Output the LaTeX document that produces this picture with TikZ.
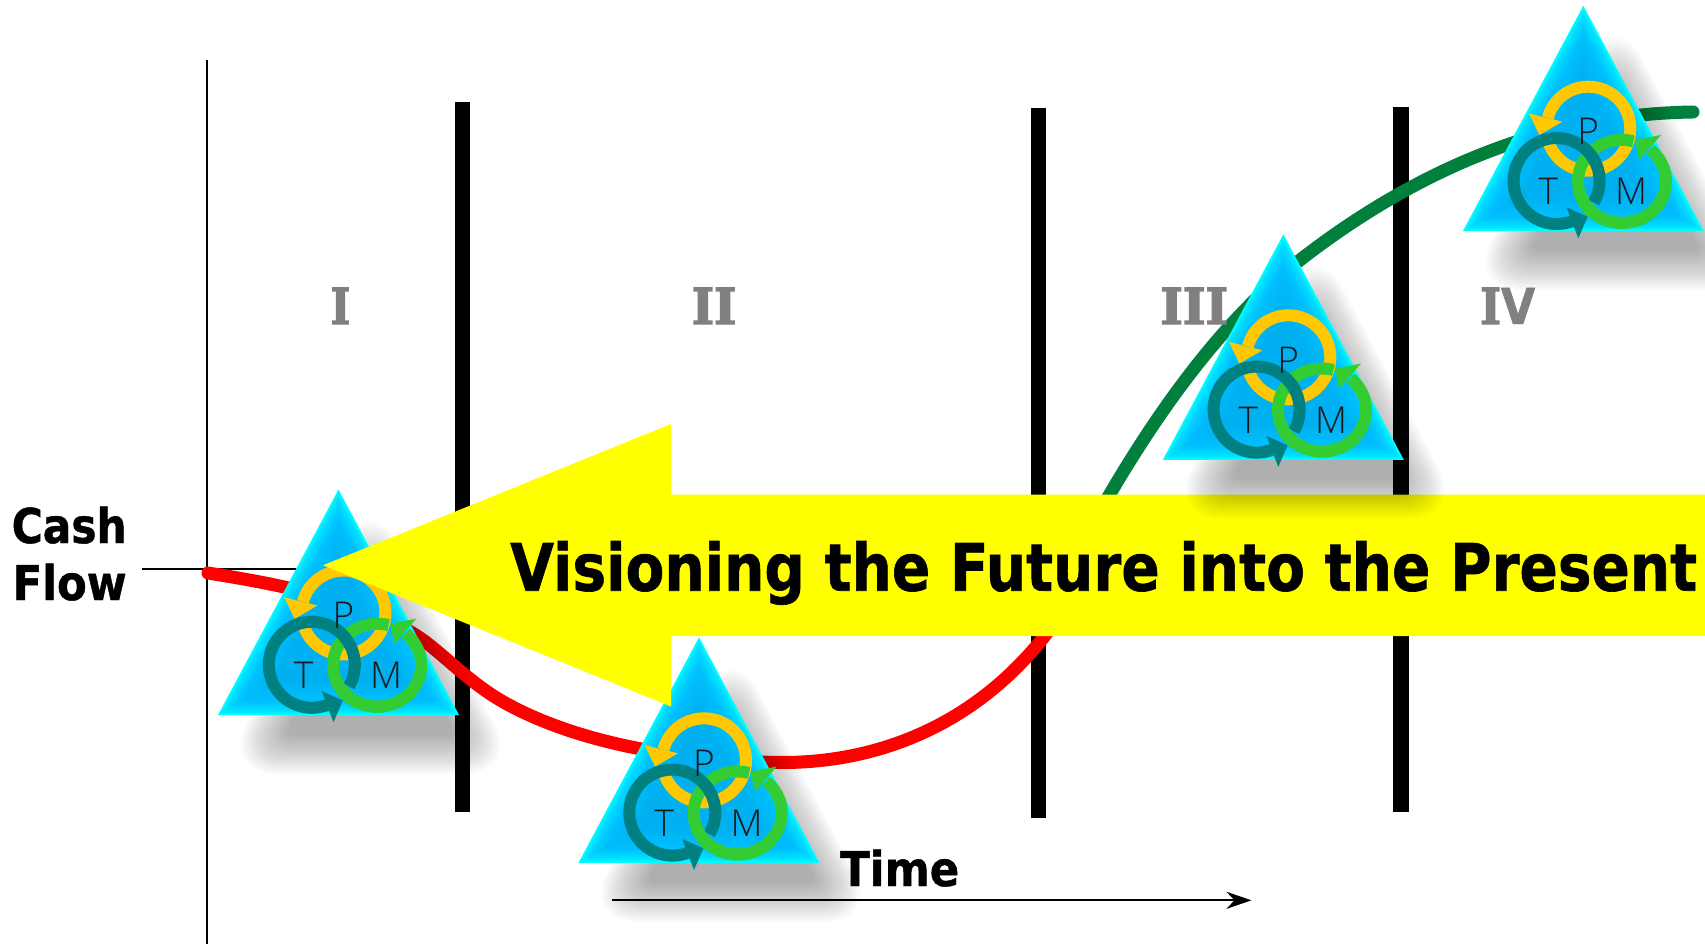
\documentclass[tikz,border=0pt]{standalone}
\usepackage{fontspec}
\usepackage{graphicx}
\usetikzlibrary{arrows.meta}
\setmainfont{DejaVu Sans}[BoldFeatures={FakeBold=1}]
\newfontfamily\slabfont{DejaVu Serif}[BoldFeatures={FakeBold=3}]
\newfontfamily\lightfont{Open Sans Light}
\definecolor{ringyellow}{HTML}{FFC800}
\definecolor{ringteal}{HTML}{008080}
\definecolor{ringgreen}{HTML}{33CC33}
\definecolor{curvegreen}{HTML}{00803C}
\definecolor{numgray}{HTML}{808080}
\definecolor{arrowyellow}{HTML}{FFFF00}
\definecolor{curvered}{HTML}{FF0000}
\tikzset{
  barline/.style={line width=15.5pt,black},
  axisline/.style={line width=2pt,black},
  redcurve/.style={line width=13pt,curvered,line cap=round,line join=round},
  greencurve/.style={line width=13pt,curvegreen,line cap=round,line join=round},
  ringline/.style={line width=12pt},
  boldlabel/.style={inner sep=0pt,anchor=base west,font=\bfseries\fontsize{48}{48}\selectfont},
  numlabel/.style={inner sep=0pt,anchor=base west,text=numgray,font=\bfseries\fontsize{49.4}{49.4}\selectfont},
  tmlabel/.style={inner sep=0pt,font=\lightfont\fontsize{37}{37}\selectfont,text=black!90}
}
\newcommand{\fitw}[2]{\resizebox{#1pt}{\height}{#2}}
\newcommand{\tmtri}[3]{% name, apex x, apex y
\coordinate (#1) at (#2,#3);
\begin{scope}[shift={(#2,#3)}]
  % blurred shadow
  \foreach \i in {0,...,23}{
    \pgfmathsetmacro{\dd}{20-40*\i/23}
    \pgfmathsetmacro{\ss}{0.98*(72.2-\dd)/72.2}
    \pgfmathsetmacro{\rc}{1.2*(20-\dd)+10}
    \fill[black,opacity=0.0153,rounded corners=\rc pt]
      ({32},{41+153.3-153.3*\ss}) -- ({32+120.5*\ss},{41+153.3+72.2*\ss}) -- ({32-120.5*\ss},{41+153.3+72.2*\ss}) -- cycle;
  }
  % bevelled body
  \foreach \i in {0,...,47}{
    \pgfmathsetmacro{\dd}{0.75*\i}
    \pgfmathsetmacro{\ss}{(72.2-\dd)/72.2}
    \pgfmathsetmacro{\gg}{\dd<=4 ? 1-0.12*\dd/4 : (\dd<=14 ? 0.88-0.13*(\dd-4)/10 : 0.75-0.06*(\dd-14)/22)}
    \pgfmathsetmacro{\bb}{\dd<=14 ? 1 : 1-0.06*(\dd-14)/22}
    \definecolor{bodyshade}{rgb}{0,\gg,\bb}
    \fill[bodyshade]
      ({0},{153.3-153.3*\ss}) -- ({120.5*\ss},{153.3+72.2*\ss}) -- ({-120.5*\ss},{153.3+72.2*\ss}) -- cycle;
  }
  % P ring
  \draw[ringline,ringyellow] plot[domain=164:-165,samples=70] ({5+42*cos(\x)},{123+42*sin(\x)});
  \fill[ringyellow] (-54.3,107.7) -- (-21,116) -- (-44,129.3) -- cycle;
  % M ring
  \draw[ringline,ringgreen] plot[domain=-75:-410,samples=70] ({38.7+44*cos(\x)},{175.7+41.5*sin(\x)});
  \fill[ringgreen] (77.7,129.3) -- (55.7,154.3) -- (51.7,134.3) -- cycle;
  % T ring
  \draw[ringline,ringteal] plot[domain=30:-291,samples=70] ({-26.7+43*cos(\x)},{175.3+43*sin(\x)});
  \fill[ringteal] (-16.7,201.7) -- (4.3,211) -- (-5,232.7) -- cycle;
  % M ring lower part passes over T ring
  \draw[ringline,ringgreen] plot[domain=-200:-320,samples=30] ({38.7+44*cos(\x)},{175.7+41.5*sin(\x)});
  \node[tmlabel] (#1P) at (5,126) {P};
  \node[tmlabel] (#1T) at (-35,186) {T};
  \node[tmlabel] (#1M) at (47.7,186) {M};
\end{scope}}
\begin{document}
\begin{tikzpicture}[x=1pt,y=-1pt]
\useasboundingbox (0,0) rectangle (1705,944);
\clip (0,0) rectangle (1705,944);
% axes
\coordinate (vtop) at (206.7,60);
\coordinate (vbot) at (206.7,944);
\coordinate (hleft) at (142.3,569.3);
\coordinate (hright) at (320,569.3);
\draw[axisline] (vtop) -- (vbot);
\draw[axisline] (hleft) -- (hright);
% phase bars
\coordinate (b1t) at (462.5,102); \coordinate (b1b) at (462.5,812);
\coordinate (b2t) at (1038.3,107.6); \coordinate (b2b) at (1038.3,818);
\coordinate (b3t) at (1401,106.6); \coordinate (b3b) at (1401,812);
\draw[barline] (b1t) -- (b1b);
\draw[barline] (b2t) -- (b2b);
\draw[barline] (b3t) -- (b3b);
% curves
\draw[redcurve] (208,573) .. controls (270,583) and (370,600) .. (427,643)
  .. controls (450,661) and (470,682) .. (500,700)
  .. controls (560,735) and (650,758) .. (763,762)
  .. controls (880,768) and (990,720) .. (1062,612);
\draw[greencurve] (1095,520) .. controls (1140,440) and (1210,330) .. (1300,260)
  .. controls (1420,167) and (1550,114) .. (1693,112);
% time axis
\coordinate (tleft) at (612,900.3);
\coordinate (tright) at (1251.5,900.3);
\draw[axisline,-{Stealth[length=25pt,width=17pt,inset=8pt]}] (tleft) -- (tright);
% labels
\node[boldlabel] (cash) at (11.5,543) {\fitw{115}{Cash}};
\node[boldlabel] (flow) at (12.5,600) {\fitw{114}{Flow}};
\node[boldlabel] (time) at (840,886) {\fitw{119}{Time}};
\node[numlabel] (n1) at (330.6,324) {\fitw{19.4}{\slabfont I}};
\node[numlabel] (n2) at (691.6,324) {\fitw{44.4}{\slabfont II}};
\node[numlabel] (n3) at (1160,324) {\fitw{68}{\slabfont III}};
\node[numlabel] (n4) at (1480,324) {\fitw{55}{{\slabfont I}V}};
% triangles beneath the arrow
\tmtri{tI}{338.5}{489.5}
\tmtri{tII}{699}{637.3}
% arrow
\coordinate (atip) at (323,565.3);
\fill[arrowyellow] (atip) -- (671,424) -- (671,494.5) -- (1705,494.5) -- (1705,636) -- (671,636) -- (671,706.5) -- cycle;
\node[inner sep=0pt,anchor=base west,font=\bfseries\fontsize{65.4}{65.4}\selectfont] (vision) at (510,590.7) {\fitw{1187}{Visioning the Future into the Present}};
% triangles above the arrow
\tmtri{tIII}{1283.3}{234.3}
\tmtri{tIV}{1583.3}{5.7}
\end{tikzpicture}
\end{document}
